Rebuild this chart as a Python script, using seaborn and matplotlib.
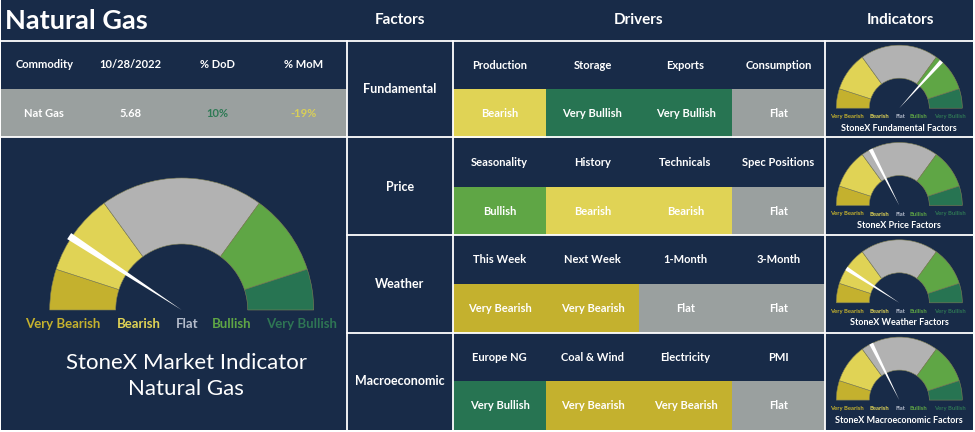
import numpy as np
import pandas as pd
import matplotlib
matplotlib.use("Agg")
import matplotlib.pyplot as plt
import seaborn as sns
from matplotlib.colors import ListedColormap

# ---------------- data ----------------
title = "Natural Gas"
report_date = "10/28/2022"
commodity = "Nat Gas"
price = 5.68
pct_dod = 10
pct_mom = -19

sentiments = ["Very Bearish", "Bearish", "Flat", "Bullish", "Very Bullish"]
gauge_weights = [1, 2, 4, 2, 1]

factors = ["Fundamental", "Price", "Weather", "Macroeconomic"]
drivers = [
    ["Production", "Storage", "Exports", "Consumption"],
    ["Seasonality", "History", "Technicals", "Spec Positions"],
    ["This Week", "Next Week", "1-Month", "3-Month"],
    ["Europe NG", "Coal & Wind", "Electricity", "PMI"],
]
driver_signals = [
    ["Bearish", "Very Bullish", "Very Bullish", "Flat"],
    ["Bullish", "Bearish", "Bearish", "Flat"],
    ["Very Bearish", "Very Bearish", "Flat", "Flat"],
    ["Very Bullish", "Very Bearish", "Very Bearish", "Flat"],
]
# needle readings: 0 = far Very Bearish end, 1 = far Very Bullish end
market_reading = 0.185
factor_readings = [0.733, 0.35, 0.183, 0.353]
factor_titles = ["StoneX Fundamental Factors", "StoneX Price Factors",
                 "StoneX Weather Factors", "StoneX Macroeconomic Factors"]

# ---------------- style ----------------
NAVY = "#182b48"
gauge_colors = ["#c4b12e", "#e0d355", "#b2b2b2", "#5fa645", "#277452"]
cell_colors = ["#c4b12e", "#e0d355", "#9aa09f", "#5fa645", "#277452"]
label_colors = ["#c4b12e", "#e0d355", "#b4bccb", "#5fa645", "#2e7554"]

sns.set_theme(style="white")
plt.rcParams['font.family'] = ['Lato', 'DejaVu Sans']

W, H = 975, 432
fig = plt.figure(figsize=(W / 100, H / 100), dpi=100, facecolor="white")

def Y(yp):
    return H - yp

def fax(x0, y0, x1, y1):
    # pixel box (top-left origin) -> figure axes
    return fig.add_axes([x0 / W, (H - y1) / H, (x1 - x0) / W, (y1 - y0) / H])

# background
base = fig.add_axes([0, 0, 1, 1])
base.set_xlim(0, W)
base.set_ylim(0, H)
base.axis("off")
base.axvspan(1, 973, ymin=(H - 430) / H, ymax=1, color=NAVY, lw=0)

cmap = ListedColormap([NAVY] + cell_colors)

# ---------------- left table ----------------
tab_codes = np.array([[0, 0, 0, 0], [3, 3, 3, 3]])
tab_text = np.array([["Commodity", report_date, "% DoD", "% MoM"],
                     [commodity, f"{price:.2f}", f"{pct_dod}%", f"{pct_mom}%"]])
axl = fax(1, 40.7, 347, 137.3)
sns.heatmap(pd.DataFrame(tab_codes), ax=axl, cmap=cmap, vmin=-0.5, vmax=5.5,
            cbar=False, annot=tab_text, fmt="", linewidths=0,
            annot_kws=dict(color="white", fontsize=8, fontweight="bold"),
            xticklabels=False, yticklabels=False)
axl.set_axis_off()
for t in axl.texts:
    if t.get_text() == f"{pct_dod}%":
        t.set_color("#2e7a55")
    elif t.get_text() == f"{pct_mom}%":
        t.set_color("#d9cf58")

# ---------------- drivers grid ----------------
codes, texts = [], []
for names, sigs in zip(drivers, driver_signals):
    codes.append([0] * len(names))
    texts.append(names)
    codes.append([sentiments.index(s) + 1 for s in sigs])
    texts.append(sigs)
axd = fax(453, 40.7, 825, 430)
sns.heatmap(pd.DataFrame(codes), ax=axd, cmap=cmap, vmin=-0.5, vmax=5.5,
            cbar=False, annot=np.array(texts), fmt="", linewidths=0,
            annot_kws=dict(color="white", fontsize=8, fontweight="bold"),
            xticklabels=False, yticklabels=False)
axd.set_axis_off()

# ---------------- overlay ----------------
ov = fig.add_axes([0, 0, 1, 1], facecolor="none")

def gauge(ax, cx, cy, R, r, reading, hw, over):
    vals = gauge_weights + [sum(gauge_weights)]
    cols = gauge_colors + ["none"]
    wedges, _ = ax.pie(vals, colors=cols, startangle=180, counterclock=False,
                       radius=R, center=(cx, cy), frame=True,
                       wedgeprops=dict(width=R - r, linewidth=0.4,
                                       edgecolor="#7f7f55"))
    wedges[-1].set_visible(False)
    th = np.pi * (1 - reading)
    L = R * over
    ux, uy = np.cos(th), np.sin(th)
    px, py = -uy, ux
    xs = [cx, cx + L * ux + hw * px, cx + L * ux - hw * px]
    ys = [cy, cy + L * uy + hw * py, cy + L * uy - hw * py]
    ax.fill(xs, ys, color="white", lw=0, zorder=5)

# lines
lw = 1.3
ov.plot([0, 973], [Y(40.7), Y(40.7)], color="white", lw=lw)
ov.plot([1, 973], [Y(137.3), Y(137.3)], color="white", lw=lw)
for yy in (235.3, 332.6):
    ov.plot([347, 973], [Y(yy), Y(yy)], color="white", lw=lw)
for xx in (347, 453, 825):
    ov.plot([xx, xx], [Y(40.7), Y(430)], color="white", lw=lw)

# headers
ov.text(5, Y(21), title, color="white", fontsize=19.5, fontweight="bold",
        ha="left", va="center")
for txt, xx in (("Factors", 400), ("Drivers", 639), ("Indicators", 900)):
    ov.text(xx, Y(20), txt, color="white", fontsize=11, fontweight="bold",
            ha="center", va="center")
row_tops = [40.7, 138.0, 235.3, 332.6]
for f, top in zip(factors, row_tops):
    ov.text(400, Y(top + 48.6), f, color="white", fontsize=9,
            fontweight="bold", ha="center", va="center")

# main gauge
cx, cy = 181.7, Y(310)
gauge(ov, cx, cy, 132, 66, market_reading, 3.6, 1.02)
for s, c, dx in zip(sentiments, label_colors, [-119, -43, 5, 50, 120]):
    ov.text(cx + dx, Y(324), s, color=c, fontsize=9.5, fontweight="bold",
            ha="center", va="center")
ov.text(186, Y(363), "StoneX Market Indicator", color="white", fontsize=16,
        ha="center", va="center")
ov.text(186, Y(389), title, color="white", fontsize=16,
        ha="center", va="center")

# small gauges
for top, rd, ttl in zip(row_tops, factor_readings, factor_titles):
    gx, gy = 899.3, Y(top + 67.5)
    gauge(ov, gx, gy, 63, 30, rd, 2.0, 1.0)
    for s, c, dx in zip(sentiments, label_colors, [-52.6, -20, 0.7, 18.7, 50.7]):
        ov.text(gx + dx, gy - 8.5, s, color=c, fontsize=4.2, fontweight="bold",
                ha="center", va="center")
    ov.text(899, Y(top + 87.5), ttl, color="white", fontsize=6.5,
            fontweight="bold", ha="center", va="center")

ov.set_xlim(0, W)
ov.set_ylim(0, H)
ov.set_aspect("auto")
ov.axis("off")

fig.savefig("out.png", dpi=100, facecolor="white")
